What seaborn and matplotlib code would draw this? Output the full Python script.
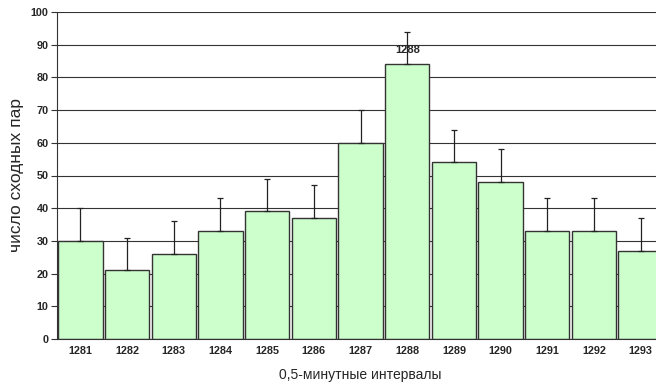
import matplotlib
matplotlib.use("Agg")
import matplotlib.pyplot as plt
import seaborn as sns
import numpy as np
import pandas as pd

# data
intervals = ["1281", "1282", "1283", "1284", "1285", "1286", "1287",
             "1288", "1289", "1290", "1291", "1292", "1293"]
pairs = [30, 21, 26, 33, 39, 37, 60, 84, 54, 48, 33, 33, 27]
upper_err = [10, 10, 10, 10, 10, 10, 10, 10, 10, 10, 10, 10, 10]
highlight = "1288"

df = pd.DataFrame({"interval": intervals, "pairs": pairs})

sns.set_theme(style="white")
plt.rcParams["font.family"] = ["Liberation Sans", "DejaVu Sans"]

fig = plt.figure(figsize=(6.56, 3.89), dpi=100)
# last bar is cut by the right edge in the reference, so axes run past the figure
ax = fig.add_axes([57 / 656, 1 - 339 / 389, 607 / 656, 327 / 389])

ax.yaxis.grid(True, color="#333333", linewidth=0.8)
ax.set_axisbelow(True)

sns.barplot(data=df, x="interval", y="pairs", color="#CCFFCC",
            edgecolor="#333333", linewidth=1.0, width=0.95,
            saturation=1, ax=ax)

xs = np.arange(len(intervals))
ax.errorbar(xs, pairs, yerr=[np.zeros(len(pairs)), upper_err], fmt="none",
            ecolor="#222222", elinewidth=0.9, capsize=2, capthick=0.9)

i = intervals.index(highlight)
ax.text(xs[i], pairs[i] + 4.5, highlight, ha="center",
        va="center", fontsize=8, fontweight="bold")

ax.set_ylim(0, 100)
ax.set_xlim(-0.5, len(intervals) - 0.5)
ax.set_yticks(range(0, 101, 10))
ax.set_yticklabels([str(v) for v in range(0, 101, 10)],
                   fontsize=7.8, fontweight="bold")
ax.set_xticks(xs)
ax.set_xticklabels(intervals, fontsize=7.8, fontweight="bold")
ax.set_xticks(np.arange(-0.5, len(intervals)), minor=True)
ax.tick_params(axis="x", which="major", length=0, pad=5)
ax.tick_params(axis="x", which="minor", length=4, width=0.8,
               direction="out", color="#333333")
ax.tick_params(axis="y", length=4, width=0.8, direction="out",
               color="#333333", left=True, pad=2)

for side in ["top", "right"]:
    ax.spines[side].set_visible(False)
for side in ["left", "bottom"]:
    ax.spines[side].set_color("#333333")
    ax.spines[side].set_linewidth(0.8)

ax.set_xlabel("0,5-минутные интервалы", fontsize=10, labelpad=9)
ax.set_ylabel("число сходных пар", fontsize=12.5)
ax.yaxis.set_label_coords(-33 / 607, 0.5)

fig.savefig("out.png", dpi=100)
